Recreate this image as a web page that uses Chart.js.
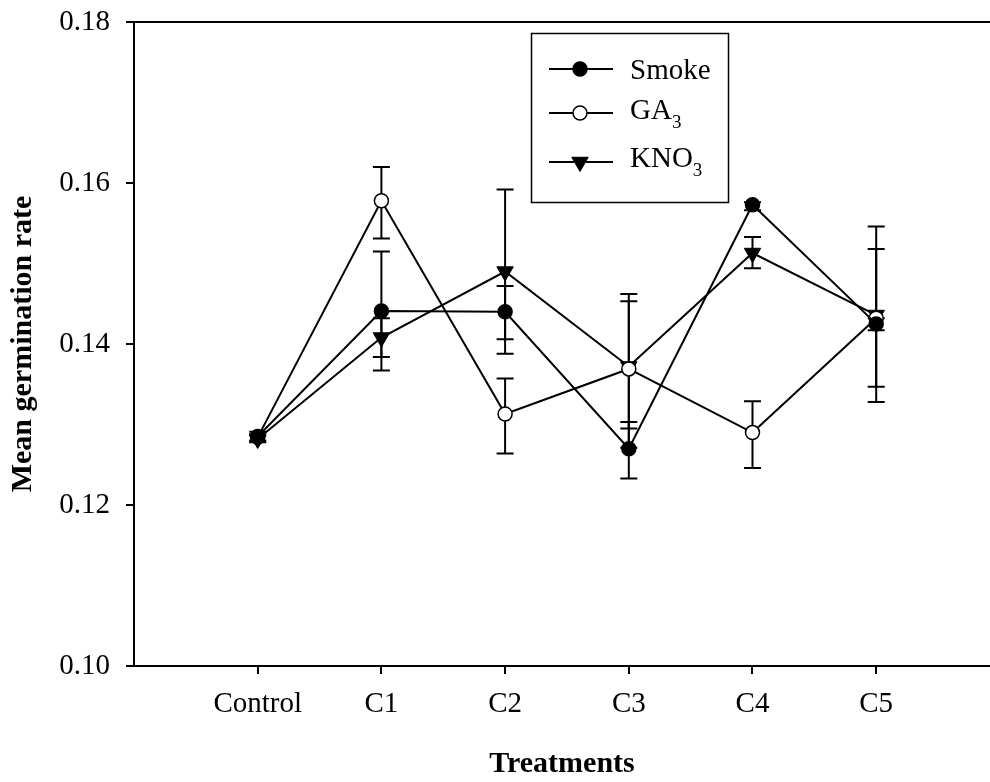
<!DOCTYPE html>
<html lang="en">
<head>
<meta charset="UTF-8">
<title>Mean germination rate</title>
<script src="https://cdn.jsdelivr.net/npm/chart.js"></script>
<style>
  html, body { margin: 0; padding: 0; background: #fff; }
  canvas { display: block; }
</style>
</head>
<body>
<canvas id="germChart" width="990" height="782"></canvas>
<script>
// categories and tick labels
const treatments = ['Control', 'C1', 'C2', 'C3', 'C4', 'C5'];
const yTicks = [0.10, 0.12, 0.14, 0.16, 0.18];

// Smoke
const smokeMean = [0.1285, 0.1441, 0.1440, 0.1270, 0.1573, 0.1425];
const smokeLow  = [0.1279, 0.1367, 0.1406, 0.1233, 0.1566, 0.1417];
const smokeHigh = [0.1291, 0.1515, 0.1472, 0.1303, 0.1576, 0.1432];

// GA3
const gaMean = [0.1284, 0.1578, 0.1313, 0.1369, 0.1290, 0.1432];
const gaLow  = [0.1280, 0.1531, 0.1264, 0.1295, 0.1246, 0.1347];
const gaHigh = [0.1288, 0.1620, 0.1357, 0.1453, 0.1329, 0.1518];

// KNO3
const knoMean = [0.1282, 0.1408, 0.1490, 0.1372, 0.1513, 0.1436];
const knoLow  = [0.1278, 0.1384, 0.1388, 0.1271, 0.1494, 0.1328];
const knoHigh = [0.1286, 0.1432, 0.1592, 0.1462, 0.1533, 0.1546];

const serif = '"Liberation Serif", "Times New Roman", serif';
Chart.defaults.color = '#000';

const toPoints = arr => arr.map((v, i) => ({ x: i, y: v }));

// draw error bars behind the markers
const errorBars = {
  id: 'errorBars',
  beforeDatasetsDraw(chart) {
    const { ctx, scales: { x, y } } = chart;
    const cap = 8.5;
    ctx.save();
    ctx.strokeStyle = '#000';
    ctx.lineWidth = 2;
    chart.data.datasets.forEach(ds => {
      ds.low.forEach((lo, i) => {
        const px = x.getPixelForValue(i);
        const yLo = y.getPixelForValue(lo);
        const yHi = y.getPixelForValue(ds.high[i]);
        ctx.beginPath();
        ctx.moveTo(px, yLo); ctx.lineTo(px, yHi);
        ctx.moveTo(px - cap, yLo); ctx.lineTo(px + cap, yLo);
        ctx.moveTo(px - cap, yHi); ctx.lineTo(px + cap, yHi);
        ctx.stroke();
      });
    });
    ctx.restore();
  }
};

// top frame line
const topFrame = {
  id: 'topFrame',
  afterDraw(chart) {
    const { ctx, chartArea } = chart;
    ctx.save();
    ctx.strokeStyle = '#000';
    ctx.lineWidth = 2;
    ctx.beginPath();
    ctx.moveTo(chartArea.left, chartArea.top);
    ctx.lineTo(chartArea.right, chartArea.top);
    ctx.stroke();
    ctx.restore();
  }
};

// boxed legend inside the plot, with subscripts
const boxLegend = {
  id: 'boxLegend',
  afterDraw(chart) {
    const ctx = chart.ctx;
    ctx.save();
    ctx.strokeStyle = '#000';
    ctx.lineWidth = 1.5;
    ctx.strokeRect(531.5, 33.5, 197, 169);

    const rows = [
      { ds: 0, lineY: 69, base: 79, text: 'Smoke', sub: '' },
      { ds: 1, lineY: 113, base: 119, text: 'GA', sub: '3' },
      { ds: 2, lineY: 162, base: 167, text: 'KNO', sub: '3' }
    ];
    rows.forEach(r => {
      const ds = chart.data.datasets[r.ds];
      ctx.lineWidth = 2;
      ctx.strokeStyle = '#000';
      ctx.beginPath();
      ctx.moveTo(549, r.lineY);
      ctx.lineTo(613, r.lineY);
      ctx.stroke();
      ctx.fillStyle = ds.pointBackgroundColor;
      ctx.lineWidth = ds.pointBorderWidth;
      Chart.helpers.drawPoint(ctx, {
        pointStyle: ds.pointStyle,
        rotation: ds.pointRotation || 0,
        radius: ds.pointRadius,
        borderWidth: ds.pointBorderWidth
      }, 580, r.lineY);

      ctx.fillStyle = '#000';
      ctx.textBaseline = 'alphabetic';
      ctx.textAlign = 'left';
      ctx.font = '29px ' + serif;
      ctx.fillText(r.text, 630, r.base);
      if (r.sub) {
        const w = ctx.measureText(r.text).width;
        ctx.font = '19px ' + serif;
        ctx.fillText(r.sub, 630 + w, r.base + 9);
      }
    });
    ctx.restore();
  }
};

const tickFont = { family: serif, size: 29 };
const titleFont = { family: serif, size: 30, weight: 'bold' };

const noPad = s => { s.paddingTop = 0; s.paddingBottom = 0; s.paddingLeft = 0; s.paddingRight = 0; };

new Chart(document.getElementById('germChart'), {
  type: 'line',
  data: {
    datasets: [
      {
        label: 'Smoke', data: toPoints(smokeMean), low: smokeLow, high: smokeHigh,
        borderColor: '#000', borderWidth: 2, tension: 0,
        pointStyle: 'circle', pointRadius: 7, pointBorderWidth: 1.5,
        pointBackgroundColor: '#000', pointBorderColor: '#000'
      },
      {
        label: 'GA3', data: toPoints(gaMean), low: gaLow, high: gaHigh,
        borderColor: '#000', borderWidth: 2, tension: 0,
        pointStyle: 'circle', pointRadius: 7, pointBorderWidth: 1.5,
        pointBackgroundColor: '#fff', pointBorderColor: '#000'
      },
      {
        label: 'KNO3', data: toPoints(knoMean), low: knoLow, high: knoHigh,
        borderColor: '#000', borderWidth: 2, tension: 0,
        pointStyle: 'triangle', pointRotation: 180, pointRadius: 9.5, pointBorderWidth: 1,
        pointBackgroundColor: '#000', pointBorderColor: '#000'
      }
    ]
  },
  options: {
    responsive: false,
    animation: false,
    layout: { autoPadding: false, padding: { top: 22, right: 0, bottom: 0, left: 0 } },
    plugins: { legend: { display: false }, tooltip: { enabled: false } },
    scales: {
      x: {
        type: 'linear',
        min: -1,
        max: 5.92,
        afterBuildTicks: s => { s.ticks = treatments.map((t, i) => ({ value: i })); },
        afterFit: s => { s.height = 116; noPad(s); },
        grid: { drawOnChartArea: false, drawTicks: true, tickLength: 8, color: '#000', lineWidth: 2 },
        border: { color: '#000', width: 2 },
        ticks: { callback: v => treatments[v], font: tickFont, padding: 13, maxRotation: 0, autoSkip: false },
        title: { display: true, text: 'Treatments', font: titleFont, padding: { top: 0, bottom: 0 } }
      },
      y: {
        min: 0.10,
        max: 0.18,
        afterBuildTicks: s => { s.ticks = yTicks.map(v => ({ value: v })); },
        afterFit: s => { s.width = 134; noPad(s); },
        grid: { drawOnChartArea: false, drawTicks: true, tickLength: 8, color: '#000', lineWidth: 2 },
        border: { color: '#000', width: 2 },
        ticks: { callback: v => v.toFixed(2), font: tickFont, padding: 16 },
        title: { display: true, text: 'Mean germination rate', font: titleFont, padding: { top: 5, bottom: 0 } }
      }
    }
  },
  plugins: [errorBars, topFrame, boxLegend]
});
</script>
</body>
</html>
